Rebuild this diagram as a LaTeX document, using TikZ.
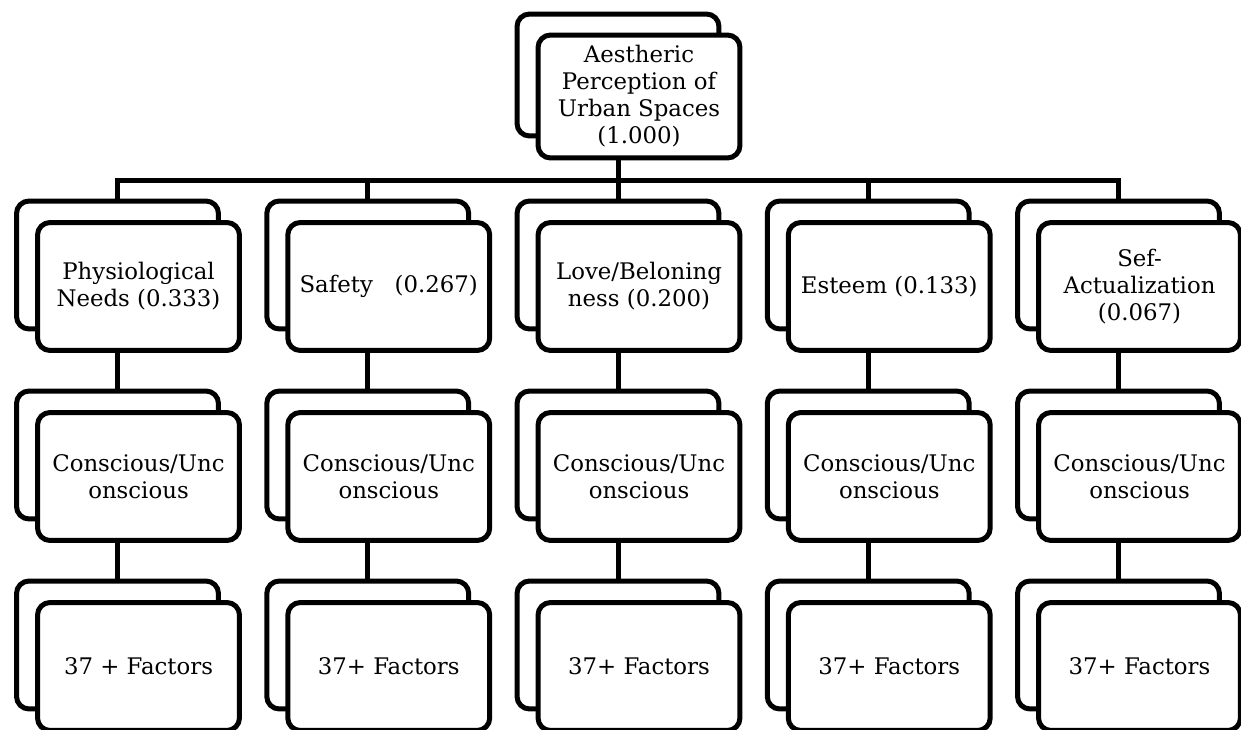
\documentclass[tikz,border=0pt]{standalone}
\usepackage{fontspec}
\setmainfont{DejaVu Serif}
\usetikzlibrary{calc,positioning}

\begin{document}
\begin{tikzpicture}[
            x=0.02cm, y=-0.02cm,
            line width=0.1cm,
            font=\fontsize{13}{15.4}\selectfont,
            every node/.style={draw,rounded corners=0.25cm,inner sep=0pt,minimum width=4.04cm,minimum height=2.56cm},
            front/.style={fill=white,align=center}
        ]
            \useasboundingbox (0,0) rectangle (1241,730);

            \node (aesb) at (618,75) [minimum height=2.44cm] {};
            \node (aes)  at ($(aesb)+(21,21.5)$) [front,minimum height=2.46cm] {Aestheric\\Perception of\\Urban Spaces\\(1.000)};

            \node (p1b) at (117.5,265)  {};
            \node (p1)  at ($(p1b)+(21,21.5)$) [front] {Physiological\\Needs (0.333)};
            \node (p2b) at (367.75,265) {};
            \node (p2)  at ($(p2b)+(21,21.5)$) [front] {Safety~~~(0.267)};
            \node (p3b) at (618,265)    {};
            \node (p3)  at ($(p3b)+(21,21.5)$) [front] {Love/Beloning\\ness (0.200)};
            \node (p4b) at (868.25,265) {};
            \node (p4)  at ($(p4b)+(21,21.5)$) [front] {Esteem (0.133)};
            \node (p5b) at (1118.5,265) {};
            \node (p5)  at ($(p5b)+(21,21.5)$) [front] {Sef-\\Actualization\\(0.067)};

            \node (c1b) at (117.5,455)  {};
            \node (c1)  at ($(c1b)+(21,21.5)$) [front] {Conscious/Unc\\onscious};
            \node (c2b) at (367.75,455) {};
            \node (c2)  at ($(c2b)+(21,21.5)$) [front] {Conscious/Unc\\onscious};
            \node (c3b) at (618,455)    {};
            \node (c3)  at ($(c3b)+(21,21.5)$) [front] {Conscious/Unc\\onscious};
            \node (c4b) at (868.25,455) {};
            \node (c4)  at ($(c4b)+(21,21.5)$) [front] {Conscious/Unc\\onscious};
            \node (c5b) at (1118.5,455) {};
            \node (c5)  at ($(c5b)+(21,21.5)$) [front] {Conscious/Unc\\onscious};

            \node (f1b) at (117.5,645)  {};
            \node (f1)  at ($(f1b)+(21,21.5)$) [front] {37 + Factors};
            \node (f2b) at (367.75,645) {};
            \node (f2)  at ($(f2b)+(21,21.5)$) [front] {37+ Factors};
            \node (f3b) at (618,645)    {};
            \node (f3)  at ($(f3b)+(21,21.5)$) [front] {37+ Factors};
            \node (f4b) at (868.25,645) {};
            \node (f4)  at ($(f4b)+(21,21.5)$) [front] {37+ Factors};
            \node (f5b) at (1118.5,645) {};
            \node (f5)  at ($(f5b)+(21,21.5)$) [front] {37+ Factors};

            \coordinate (bus) at (618,180.5);
            \draw (aesb |- aes.south) -- (bus);
            \draw (p1b.north) |- (bus) -| (p5b.north);
            \draw (p2b.north) -- (p2b.north |- bus);
            \draw (p3b.north) -- (bus);
            \draw (p4b.north) -- (p4b.north |- bus);

            \draw (c1b.north) -- (c1b.north |- p1.south);
            \draw (c2b.north) -- (c2b.north |- p2.south);
            \draw (c3b.north) -- (c3b.north |- p3.south);
            \draw (c4b.north) -- (c4b.north |- p4.south);
            \draw (c5b.north) -- (c5b.north |- p5.south);
            \draw (f1b.north) -- (f1b.north |- c1.south);
            \draw (f2b.north) -- (f2b.north |- c2.south);
            \draw (f3b.north) -- (f3b.north |- c3.south);
            \draw (f4b.north) -- (f4b.north |- c4.south);
            \draw (f5b.north) -- (f5b.north |- c5.south);
        \end{tikzpicture}
\end{document}
